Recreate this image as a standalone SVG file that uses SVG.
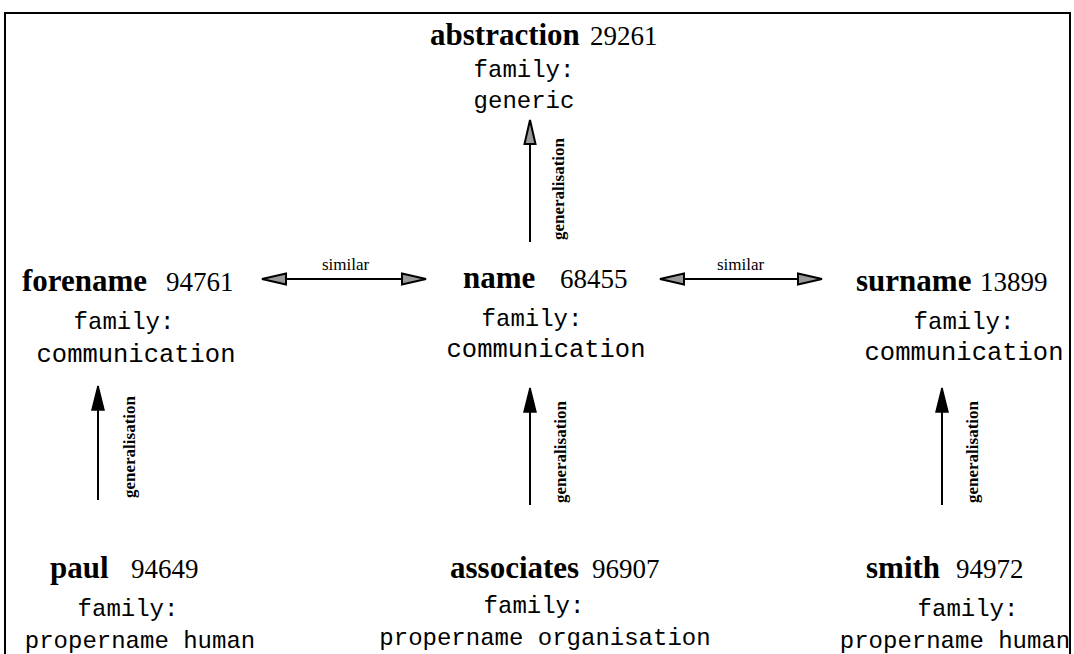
<svg xmlns="http://www.w3.org/2000/svg" width="1074" height="654" viewBox="0 0 1074 654">
<style>
.hw{font-family:"Liberation Serif","Times New Roman",serif;font-weight:bold;font-size:31px;fill:#000}
.num{font-family:"Liberation Serif","Times New Roman",serif;font-size:27px;fill:#000}
.fam{font-family:"Liberation Mono","Courier New",monospace;font-size:24px;fill:#000;text-anchor:middle}
.com{font-size:25.5px}
.lbl{font-family:"Liberation Serif","Times New Roman",serif;font-size:17px;fill:#000}
.glbl{font-family:"Liberation Serif","Times New Roman",serif;font-weight:bold;font-size:17px;fill:#000}
.ln{stroke:#000;stroke-width:2;fill:none}
</style>
<defs>
<marker id="hatch" viewBox="0 0 26 14" refX="25" refY="7" markerWidth="26" markerHeight="14" markerUnits="userSpaceOnUse" orient="auto-start-reverse">
<path d="M1,1.5 L25,7 L1,12.5 Z" fill="#999" stroke="#000" stroke-width="2"/>
</marker>
<marker id="solid" viewBox="0 0 26 14" refX="25" refY="7" markerWidth="26" markerHeight="14" markerUnits="userSpaceOnUse" orient="auto">
<path d="M1,1 L25,7 L1,13 Z" fill="#000" stroke="#000" stroke-width="1.5"/>
</marker>
</defs>
<rect x="5" y="13" width="1065" height="700" fill="#fff" stroke="#000" stroke-width="2"/>

<g id="connectors">
<line class="ln" x1="530" y1="242" x2="530" y2="120" marker-end="url(#hatch)"/>
<text class="glbl" transform="translate(564,240) rotate(-90)">generalisation</text>
<line class="ln" x1="262" y1="279" x2="426" y2="279" marker-start="url(#hatch)" marker-end="url(#hatch)"/>
<text class="lbl" x="322" y="270">similar</text>
<line class="ln" x1="660" y1="279" x2="822" y2="279" marker-start="url(#hatch)" marker-end="url(#hatch)"/>
<text class="lbl" x="717" y="270">similar</text>
<line class="ln" x1="98" y1="500" x2="98" y2="386" marker-end="url(#solid)"/>
<text class="glbl" transform="translate(135,498) rotate(-90)">generalisation</text>
<line class="ln" x1="530" y1="505" x2="530" y2="388" marker-end="url(#solid)"/>
<text class="glbl" transform="translate(566,503) rotate(-90)">generalisation</text>
<line class="ln" x1="942" y1="505" x2="942" y2="388" marker-end="url(#solid)"/>
<text class="glbl" transform="translate(978,503) rotate(-90)">generalisation</text>
</g>

<g id="abstraction">
<text class="hw" x="430" y="45">abstraction</text>
<text class="num" x="590" y="45">29261</text>
<text class="fam" x="524" y="77">family:</text>
<text class="fam" x="524" y="108">generic</text>
</g>
<g id="forename">
<text class="hw" x="22" y="291">forename</text>
<text class="num" x="166" y="291">94761</text>
<text class="fam" x="124" y="329">family:</text>
<text class="fam com" x="136" y="362">communication</text>
</g>
<g id="name">
<text class="hw" x="463" y="288">name</text>
<text class="num" x="560" y="288">68455</text>
<text class="fam" x="532" y="326">family:</text>
<text class="fam com" x="546" y="357">communication</text>
</g>
<g id="surname">
<text class="hw" x="856" y="291">surname</text>
<text class="num" x="980" y="291">13899</text>
<text class="fam" x="964" y="329">family:</text>
<text class="fam com" x="964" y="360">communication</text>
</g>
<g id="paul">
<text class="hw" x="50" y="578">paul</text>
<text class="num" x="131" y="578">94649</text>
<text class="fam" x="128" y="616">family:</text>
<text class="fam" x="140" y="648">propername human</text>
</g>
<g id="associates">
<text class="hw" x="450" y="578">associates</text>
<text class="num" x="592" y="578">96907</text>
<text class="fam" x="534" y="613">family:</text>
<text class="fam" x="545" y="645">propername organisation</text>
</g>
<g id="smith">
<text class="hw" x="866" y="578">smith</text>
<text class="num" x="956" y="578">94972</text>
<text class="fam" x="968" y="616">family:</text>
<text class="fam" x="955" y="648">propername human</text>
</g>
</svg>
